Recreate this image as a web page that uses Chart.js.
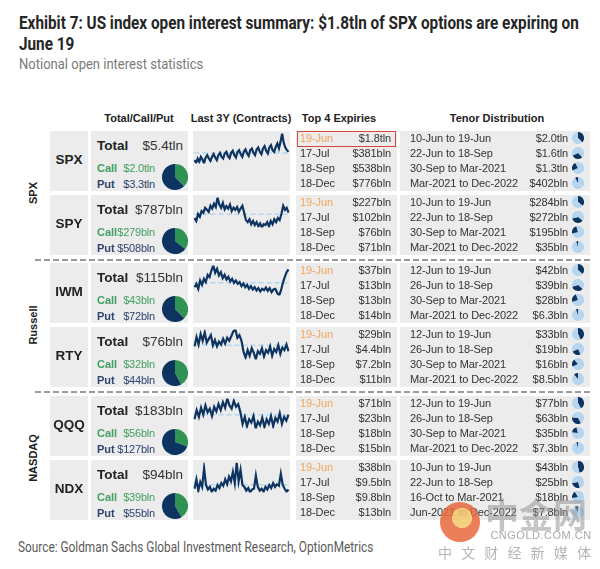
<!DOCTYPE html>
<html>
<head>
<meta charset="utf-8">
<script src="https://cdn.jsdelivr.net/npm/chart.js@4.4.0/dist/chart.umd.min.js"></script>
<style>
  html, body { margin: 0; padding: 0; background: #fff; }
  #stage { position: relative; width: 600px; height: 569px; overflow: hidden; font-family: "Liberation Sans", Arial, sans-serif; color: #333; }
  .t { position: absolute; white-space: nowrap; }
  .cell { position: absolute; background: #ececec; }
  .sq { display: inline-block; white-space: nowrap; transform-origin: left center; }
  canvas { position: absolute; }
</style>
</head>
<body>
<div id="stage"></div>
<script>
// ---- data (values in $bln) ----
const tickers = ['SPX', 'SPY', 'IWM', 'RTY', 'QQQ', 'NDX'];
const groups = ['SPX', 'Russell', 'NASDAQ'];
const totalOI = [5400, 787, 115, 76, 183, 94];
const callOI = [2000, 279, 43, 32, 56, 39];
const putOI = [3300, 508, 72, 44, 127, 55];

const expiryDates = ['19-Jun', '17-Jul', '18-Sep', '18-Dec'];
const spxExpiry = [1800, 381, 538, 776];
const spyExpiry = [227, 102, 76, 71];
const iwmExpiry = [37, 13, 13, 14];
const rtyExpiry = [29, 4.4, 7.2, 11];
const qqqExpiry = [71, 23, 18, 15];
const ndxExpiry = [38, 9.5, 9.8, 13];

const tenorLabelsA = ['10-Jun to 19-Jun', '22-Jun to 18-Sep', '30-Sep to Mar-2021', 'Mar-2021 to Dec-2022'];
const tenorLabelsB = ['12-Jun to 19-Jun', '26-Jun to 18-Sep', '30-Sep to Mar-2021', 'Mar-2021 to Dec-2022'];
const tenorLabelsNdx = ['10-Jun to 19-Jun', '22-Jun to 18-Sep', '16-Oct to Mar-2021', 'Jun-2021 to Dec-2022'];
const spxTenor = [2000, 1600, 1300, 402];
const spyTenor = [284, 272, 195, 35];
const iwmTenor = [42, 39, 28, 6.3];
const rtyTenor = [33, 19, 16, 8.5];
const qqqTenor = [77, 63, 35, 7.3];
const ndxTenor = [43, 25, 18, 7.8];

// last 3Y open interest (contracts), relative level read from the sparklines
const spxHistory = [20,12,25,15,30,22,10,28,35,25,18,30,38,28,20,35,42,30,25,40,45,32,26,42,48,35,28,45,50,38,30,46,52,40,33,50,55,42,35,52,58,45,38,55,62,48,40,58,65,50,45,60,70,55,75,100,72,58,50,45];
const spyHistory = [45,38,55,48,62,58,70,65,60,75,68,80,72,95,78,70,82,66,74,68,78,62,70,65,72,60,68,75,58,40,35,42,30,38,28,35,25,32,22,30,28,35,25,38,30,42,35,45,40,55,75,65,70,58];
const iwmHistory = [35,45,30,55,42,60,50,72,65,85,100,78,90,70,80,62,72,58,66,52,60,48,55,45,50,38,46,35,42,30,38,28,35,25,32,22,30,26,34,24,32,20,28,30,18,10,25,48,65,80,88];
const rtyHistory = [55,80,60,88,70,92,65,75,85,58,72,55,68,60,75,62,78,70,82,95,100,78,85,70,40,25,45,30,50,38,20,42,35,50,28,45,38,55,30,48,40,58,35,52,45,60,42];
const qqqHistory = [55,75,60,80,65,85,70,78,62,82,72,88,75,92,80,100,85,78,95,82,88,70,45,60,40,55,48,62,35,50,42,58,38,55,45,62,40,58,50,68,45,60,52,65];
const ndxHistory = [30,55,25,48,35,85,40,28,35,22,30,25,40,32,45,38,55,42,62,50,75,45,100,50,80,40,35,25,32,20,28,30,65,35,25,30,22,35,28,40,32,45,35,42,38,70,40,30,22,28];

const expiryValues = [spxExpiry, spyExpiry, iwmExpiry, rtyExpiry, qqqExpiry, ndxExpiry];
const tenorValues = [spxTenor, spyTenor, iwmTenor, rtyTenor, qqqTenor, ndxTenor];
const tenorLabels = [tenorLabelsA, tenorLabelsA, tenorLabelsB, tenorLabelsB, tenorLabelsB, tenorLabelsNdx];
const histories = [spxHistory, spyHistory, iwmHistory, rtyHistory, qqqHistory, ndxHistory];

// ---- layout ----
const ROW_TOPS = [131, 195, 263, 327, 396, 460];
const ROW_H = 60;
const GROUP_MID = [193, 325, 458];
const SEPARATORS = [259, 391];

const NAVY = '#0d3461';
const GREEN = '#2f9353';
const LIGHT_BLUE = '#b3d5f0';
const CALL_TEXT = '#43a062';
const PUT_TEXT = '#2f4470';
const ROW_FONT = 'font-size:11px;letter-spacing:-0.1px;';

const stage = document.getElementById('stage');

function fmt(v) {
    if (v >= 1000) return '$' + (v / 1000).toFixed(1) + 'tln';
    if (v < 10) return '$' + v.toFixed(1) + 'bln';
    return '$' + Math.round(v) + 'bln';
}

function text(x, y, str, style, align) {
    const d = document.createElement('div');
    d.className = 't';
    d.textContent = str;
    d.style.cssText += `top:${y - 9}px;height:18px;line-height:18px;` + (style || '');
    if (align === 'right') { d.style.left = (x - 300) + 'px'; d.style.width = '300px'; d.style.textAlign = 'right'; }
    else if (align === 'center') { d.style.left = (x - 150) + 'px'; d.style.width = '300px'; d.style.textAlign = 'center'; }
    else d.style.left = x + 'px';
    stage.appendChild(d);
    return d;
}

function box(x, y, w, h, cls, style) {
    const d = document.createElement('div');
    d.className = cls || 'cell';
    d.style.cssText += `left:${x}px;top:${y}px;width:${w}px;height:${h}px;` + (style || '');
    stage.appendChild(d);
    return d;
}

function canvasAt(x, y, w, h) {
    const c = document.createElement('canvas');
    c.width = w; c.height = h;
    c.style.cssText = `left:${x}px;top:${y}px;width:${w}px;height:${h}px;`;
    stage.appendChild(c);
    return c;
}

function squeezed(x, y, str, style, targetW) {
    const d = document.createElement('div');
    d.className = 't';
    d.style.cssText = `left:${x}px;top:${y}px;` + style;
    const s = document.createElement('span');
    s.className = 'sq';
    s.textContent = str;
    d.appendChild(s);
    stage.appendChild(d);
    const k = targetW / s.scrollWidth;
    s.style.transform = `scaleX(${k})`;
    return k;
}

const quiet = {
    responsive: false,
    animation: false,
    events: [],
    plugins: { legend: { display: false }, tooltip: { enabled: false } },
};

// ---- titles ----
const titleStyle = 'font-family:Roboto,sans-serif;font-weight:bold;font-size:18.5px;color:#262626;line-height:22px;';
const k = squeezed(19, 12, 'Exhibit 7: US index open interest summary: $1.8tln of SPX options are expiring on', titleStyle, 560);
const line2 = document.createElement('div');
line2.className = 't';
line2.style.cssText = 'left:19px;top:33px;' + titleStyle;
line2.innerHTML = `<span class="sq" style="transform:scaleX(${k})">June 19</span>`;
stage.appendChild(line2);
squeezed(19, 55, 'Notional open interest statistics', 'font-family:Roboto,sans-serif;font-size:14.5px;color:#7a7a7a;line-height:20px;', 184);
squeezed(18, 538, 'Source: Goldman Sachs Global Investment Research, OptionMetrics', 'font-family:Roboto,sans-serif;font-size:14.5px;color:#5a5a5a;line-height:20px;', 355);

// ---- column headers ----
const hdr = 'font-weight:bold;font-size:11px;color:#222;';
text(139, 118, 'Total/Call/Put', hdr, 'center');
text(241, 118, 'Last 3Y (Contracts)', hdr, 'center');
text(339, 118, 'Top 4 Expiries', hdr, 'center');
text(497, 118, 'Tenor Distribution', hdr, 'center');

// ---- group labels and separators ----
groups.forEach((g, i) => {
    const d = text(33, GROUP_MID[i], g, 'font-weight:bold;font-size:11px;color:#222;', 'center');
    d.style.transform = 'rotate(-90deg)';
});
SEPARATORS.forEach((y) => {
    box(35, y, 555, 1.5, 't', 'background:repeating-linear-gradient(to right,#9a9a9a 0 6px,transparent 6px 9px);');
});

// ---- rows ----
tickers.forEach((tk, i) => {
    const top = ROW_TOPS[i];
    box(50, top, 38, ROW_H);
    box(91, top, 97, ROW_H);
    box(193, top, 97, ROW_H);
    box(296, top, 101, ROW_H);
    box(400, top, 190, ROW_H);

    text(69, top + 29, tk, 'font-weight:bold;font-size:13.5px;color:#222;', 'center');

    text(97, top + 15, 'Total', 'font-weight:bold;font-size:13.5px;color:#222;');
    text(183, top + 15, fmt(totalOI[i]), 'font-size:13.5px;color:#333;', 'right');
    text(97, top + 37, 'Call', `font-weight:bold;font-size:11px;color:${CALL_TEXT};`);
    text(155, top + 37, fmt(callOI[i]), `font-size:11px;letter-spacing:-0.2px;color:${CALL_TEXT};`, 'right');
    text(97, top + 53, 'Put', `font-weight:bold;font-size:11px;color:${PUT_TEXT};`);
    text(155, top + 53, fmt(putOI[i]), `font-size:11px;letter-spacing:-0.2px;color:${PUT_TEXT};`, 'right');

    new Chart(canvasAt(162, top + 33, 26, 26), {
        type: 'pie',
        data: { labels: ['Call', 'Put'], datasets: [{ data: [callOI[i], putOI[i]], backgroundColor: [GREEN, NAVY], borderWidth: 0 }] },
        options: quiet,
    });

    const hist = histories[i];
    const avg = hist.reduce((a, b) => a + b, 0) / hist.length;
    new Chart(canvasAt(193, top + 1, 97, 33), {
        type: 'line',
        data: {
            labels: hist.map((_, j) => j),
            datasets: [
                { data: hist, borderColor: NAVY, borderWidth: 2.2, pointRadius: 0, tension: 0 },
                { data: hist.map(() => avg), borderColor: LIGHT_BLUE, borderWidth: 1.5, borderDash: [5, 3], pointRadius: 0 },
            ],
        },
        options: Object.assign({}, quiet, {
            layout: { padding: 1.5 },
            scales: {
                x: { display: false },
                y: { display: false, min: Math.min(...hist), max: Math.max(...hist) },
            },
        }),
    });

    expiryDates.forEach((dt, j) => {
        const y = top + 7 + 15 * j;
        const dateColor = j === 0 ? '#f2a65a' : '#333';
        text(300, y, dt, ROW_FONT + `color:${dateColor};`);
        text(391, y, fmt(expiryValues[i][j]), ROW_FONT + 'color:#333;', 'right');
    });

    tenorLabels[i].forEach((lb, j) => {
        const y = top + 7 + 15 * j;
        text(410, y, lb, ROW_FONT + 'color:#333;');
        text(568, y, fmt(tenorValues[i][j]), ROW_FONT + 'color:#333;', 'right');
        new Chart(canvasAt(572, y - 6, 12, 12), {
            type: 'pie',
            data: {
                labels: tenorLabels[i],
                datasets: [{
                    data: tenorValues[i],
                    backgroundColor: tenorValues[i].map((_, m) => (m === j ? NAVY : LIGHT_BLUE)),
                    borderWidth: 0,
                }],
            },
            options: quiet,
        });
    });
});

// highlight box around SPX June expiry
box(297, 131, 99, 16, 't', 'border:1.5px solid #d8463c;box-sizing:border-box;');

// ---- watermark ----
box(440, 502, 40, 40, 't', 'border-radius:50%;background:radial-gradient(circle at 55% 40%,#f6c76a 0 30%,#e8683c 32%);opacity:0.85;');
text(536, 514, '中金网', 'font-family:"Noto Sans CJK SC",sans-serif;font-weight:bold;font-size:34px;color:rgba(150,150,150,0.55);line-height:18px;', 'center');
text(541, 535, 'CNGOLD.COM.CN', 'font-size:11px;color:#a8a8a8;letter-spacing:0.5px;', 'center');
text(516, 552, '中 文 财 经 新 媒 体', 'font-family:"Noto Sans CJK SC",sans-serif;font-size:14px;color:#b5b5b5;letter-spacing:3px;', 'center');
</script>
</body>
</html>
